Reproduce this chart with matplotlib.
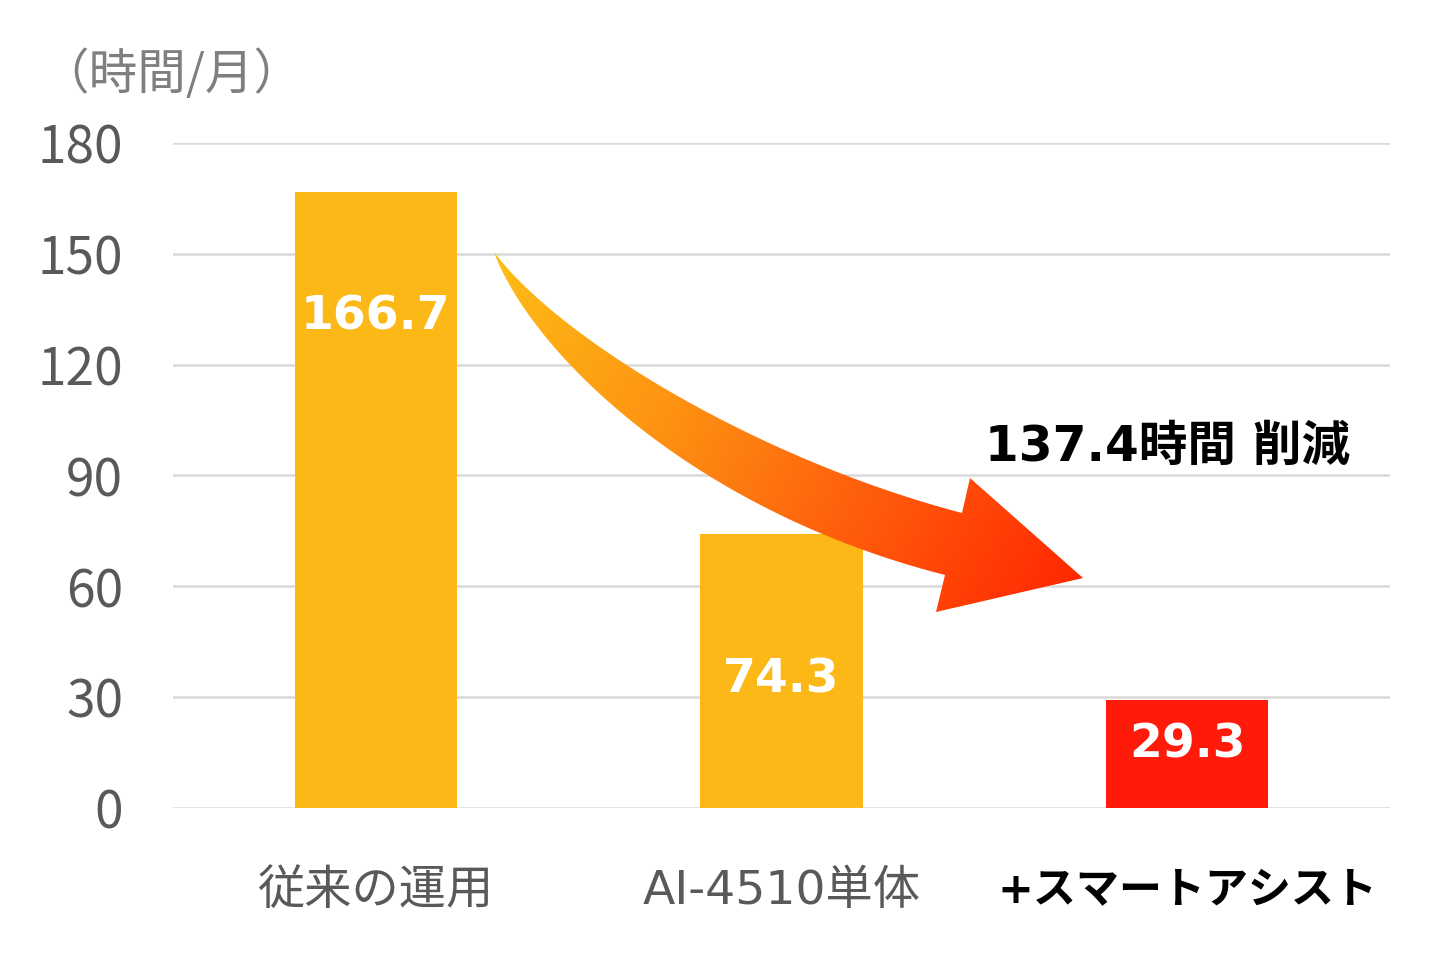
import numpy as np
import matplotlib
matplotlib.use('Agg')
import matplotlib.pyplot as plt
from matplotlib.path import Path
from matplotlib.patches import PathPatch
from matplotlib.colors import LinearSegmentedColormap

plt.rcParams['font.family'] = ['Noto Sans CJK JP', 'DejaVu Sans']
latin_first = ['DejaVu Sans', 'Noto Sans CJK JP']

# data
categories = ['従来の運用', 'AI-4510単体', '+スマートアシスト']
hours = [166.7, 74.3, 29.3]
value_labels = ['166.7', '74.3', '29.3']
bar_colors = ['#FBB817', '#FBB817', '#FF1A0A']
yticks = [0, 30, 60, 90, 120, 150, 180]
unit_label = '（時間/月）'
reduction_text = '137.4時間 削減'

W, H = 1441, 980
fig = plt.figure(figsize=(W / 100, H / 100), dpi=100)
ax = fig.add_axes([173 / W, 1 - 808 / H, (1390 - 173) / W, (808 - 143) / H])

x = np.arange(len(categories))
ax.bar(x, hours, width=0.4, color=bar_colors, zorder=2)
ax.set_xlim(-0.5, 2.5)
ax.set_ylim(0, 180)
ax.set_yticks(yticks)
ax.set_yticklabels([str(t) for t in yticks], fontsize=37, color='#595959')
ax.tick_params(axis='y', length=0, pad=36)
ax.tick_params(axis='x', length=0, pad=44)
ax.set_xticks(x)
ax.set_xticklabels(categories, fontsize=34, color='#595959', family=latin_first)
lbls = ax.get_xticklabels()
lbls[2].set_color('black')
lbls[2].set_fontweight('bold')
lbls[2].set_fontsize(31)
ax.grid(axis='y', color='#D9D9D9', linewidth=1.8, zorder=0)
for s in ax.spines.values():
    s.set_visible(False)

# labels on bars (pixel offsets below bar top)
offsets = [-125, -146, -45]
for i, v in enumerate(hours):
    ax.annotate(value_labels[i], (x[i], v), xytext=(0, offsets[i] * 0.72),
                textcoords='offset points', ha='center', va='center',
                fontsize=34, fontweight='bold', color='white', zorder=3,
                family=latin_first)

fig.text(171 / W, 1 - 75 / H, unit_label, fontsize=35, color='#7F7F7F',
         ha='center', va='center')

# overlay in pixel coordinates for the curved arrow
ov = fig.add_axes([0, 0, 1, 1])
ov.set_xlim(0, W)
ov.set_ylim(H, 0)
ov.axis('off')
ov.patch.set_alpha(0)


def bez(p0, p1, p2, p3, n=60):
    t = np.linspace(0, 1, n)[:, None]
    return ((1 - t) ** 3 * np.array(p0) + 3 * (1 - t) ** 2 * t * np.array(p1)
            + 3 * (1 - t) * t ** 2 * np.array(p2) + t ** 3 * np.array(p3))

upper = bez((494, 252), (560, 340), (760, 460), (962, 513))
lower = bez((494, 252), (530, 350), (690, 510), (945, 575))
head = np.array([(970, 478), (1083, 578), (936, 612)])
pts = np.vstack([upper, head, lower[::-1]])
path = Path(pts, closed=True)
patch = PathPatch(path, facecolor='none', edgecolor='none')
ov.add_patch(patch)

cmap = LinearSegmentedColormap.from_list('arr', ['#FDBD16', '#FD9312', '#FF5A0C', '#FF2400'])
gx, gy = np.meshgrid(np.linspace(480, 1090, 300), np.linspace(245, 620, 200))
d = np.array([1083 - 494, 610 - 252], dtype=float)
proj = ((gx - 494) * d[0] + (gy - 252) * d[1]) / (d @ d)
img = ov.imshow(np.clip(proj, 0, 1), cmap=cmap, extent=(480, 1090, 620, 245),
                origin='upper', aspect='auto', zorder=5)
img.set_clip_path(patch)

ov.text(985, 447, reduction_text, fontsize=35, fontweight='bold', color='black',
        ha='left', va='center', zorder=6, family=latin_first)

fig.savefig('out.png', dpi=100)
